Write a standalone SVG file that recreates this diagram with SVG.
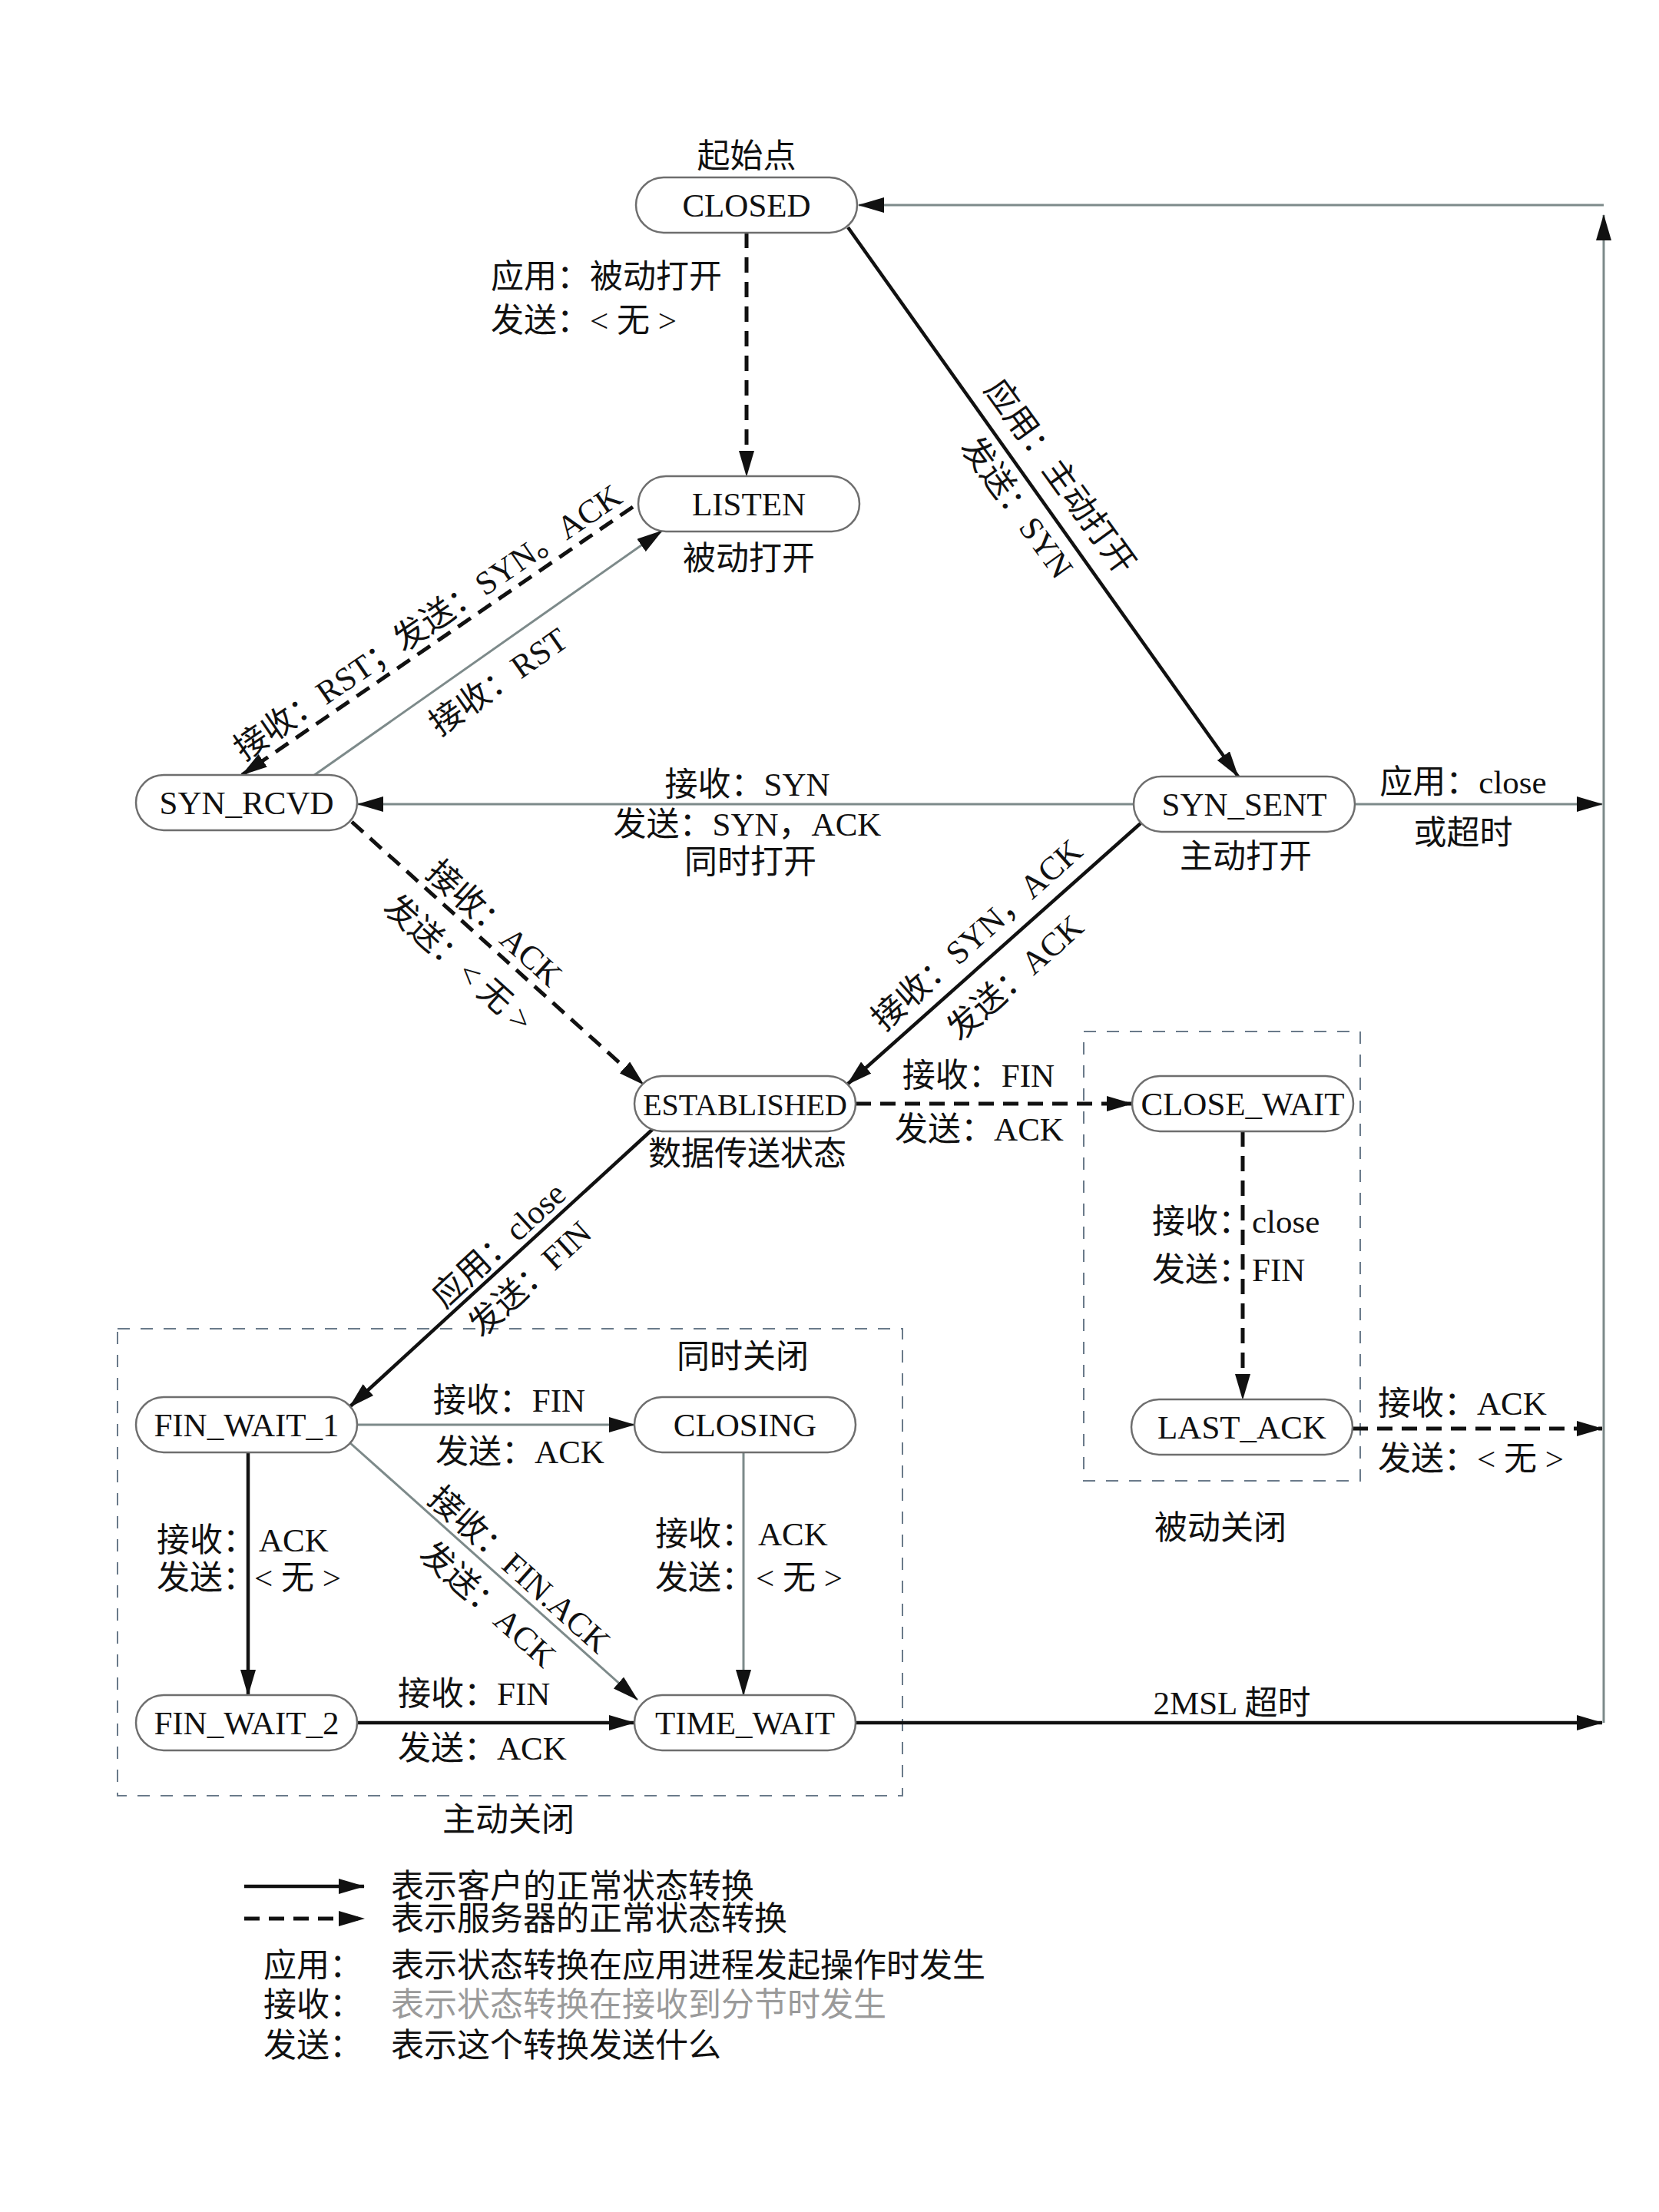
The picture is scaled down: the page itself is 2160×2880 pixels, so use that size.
<svg xmlns="http://www.w3.org/2000/svg" width="2160" height="2880" viewBox="0 0 2160 2880">
<defs>
<style>
text{font-family:"Liberation Serif","Noto Sans CJK SC",serif;font-size:43px;fill:#111}
.node rect{fill:#fff;stroke:#6e6e6e;stroke-width:2.5}
.node text{text-anchor:middle;font-size:43px}
.mid{text-anchor:middle}
.solid{fill:none;stroke:#111;stroke-width:4.5}
.dash{fill:none;stroke:#111;stroke-width:5;stroke-dasharray:20 12}
.thin{fill:none;stroke:#7d8a8a;stroke-width:3}
.box{fill:none;stroke:#6a7a8a;stroke-width:2;stroke-dasharray:16 14}
.gray{fill:#9a9a9a}
</style>
<marker id="ah" viewBox="0 0 34 20" refX="33" refY="10" markerWidth="34" markerHeight="20" markerUnits="userSpaceOnUse" orient="auto">
<path d="M0,0 L34,10 L0,20 z" fill="#111"/>
</marker>
</defs>

<rect class="box" x="153" y="1730" width="1022" height="608"/>
<rect class="box" x="1411" y="1343" width="360" height="585"/>

<g id="connectors">
<path class="dash" d="M972,303 L972,620" marker-end="url(#ah)"/>
<path class="solid" d="M1104,296 L1612,1011" marker-end="url(#ah)"/>
<path class="dash" d="M824,660 L315,1009" marker-end="url(#ah)"/>
<path class="thin" d="M408,1010 L862,691" marker-end="url(#ah)"/>
<path class="thin" d="M1476,1047 L466,1047" marker-end="url(#ah)"/>
<path class="thin" d="M1764,1047 L2086,1047" marker-end="url(#ah)"/>
<path class="dash" d="M458,1070 L838,1412" marker-end="url(#ah)"/>
<path class="solid" d="M1485,1072 L1103,1412" marker-end="url(#ah)"/>
<path class="dash" d="M1114,1437 L1474,1437" marker-end="url(#ah)"/>
<path class="solid" d="M850,1470 L455,1832" marker-end="url(#ah)"/>
<path class="dash" d="M1618,1473 L1618,1822" marker-end="url(#ah)"/>
<path class="dash" d="M1761,1860 L2086,1860" marker-end="url(#ah)"/>
<path class="thin" d="M465,1855 L826,1855" marker-end="url(#ah)"/>
<path class="solid" d="M323,1891 L323,2207" marker-end="url(#ah)"/>
<path class="thin" d="M455,1878 L830,2213" marker-end="url(#ah)"/>
<path class="thin" d="M968,1891 L968,2207" marker-end="url(#ah)"/>
<path class="solid" d="M465,2243 L826,2243" marker-end="url(#ah)"/>
<path class="solid" d="M1114,2243 L2086,2243" marker-end="url(#ah)"/>
<path class="thin" d="M2088,2243 L2088,280" marker-end="url(#ah)"/>
<path class="thin" d="M2088,267 L1118,267" marker-end="url(#ah)"/>
</g>

<g id="closed" class="node"><rect x="828" y="231" width="288" height="72" rx="36"/><text x="972" y="282">CLOSED</text></g>
<g id="listen" class="node"><rect x="831" y="620" width="288" height="72" rx="36"/><text x="975" y="671">LISTEN</text></g>
<g id="syn_rcvd" class="node"><rect x="177" y="1009" width="288" height="72" rx="36"/><text x="321" y="1060">SYN_RCVD</text></g>
<g id="syn_sent" class="node"><rect x="1476" y="1011" width="288" height="72" rx="36"/><text x="1620" y="1062">SYN_SENT</text></g>
<g id="established" class="node"><rect x="826" y="1401" width="288" height="72" rx="36"/><text x="970" y="1452" style="font-size:40px">ESTABLISHED</text></g>
<g id="close_wait" class="node"><rect x="1474" y="1401" width="288" height="72" rx="36"/><text x="1618" y="1452">CLOSE_WAIT</text></g>
<g id="fin_wait_1" class="node"><rect x="177" y="1819" width="288" height="72" rx="36"/><text x="321" y="1870">FIN_WAIT_1</text></g>
<g id="closing" class="node"><rect x="826" y="1819" width="288" height="72" rx="36"/><text x="970" y="1870">CLOSING</text></g>
<g id="last_ack" class="node"><rect x="1473" y="1822" width="288" height="72" rx="36"/><text x="1617" y="1873">LAST_ACK</text></g>
<g id="fin_wait_2" class="node"><rect x="177" y="2207" width="288" height="72" rx="36"/><text x="321" y="2258">FIN_WAIT_2</text></g>
<g id="time_wait" class="node"><rect x="826" y="2207" width="288" height="72" rx="36"/><text x="970" y="2258">TIME_WAIT</text></g>

<g id="labels">
<text class="mid" x="972" y="218">起始点</text>
<text x="639" y="375">应用：被动打开</text>
<text x="639" y="432">发送：&lt; 无 &gt;</text>
<text class="mid" x="975" y="742">被动打开</text>
<g transform="translate(1353,640) rotate(54.1)"><text class="mid" y="-19">应用：主动打开</text><text class="mid" y="50">发送：SYN</text></g>
<g transform="translate(572,832) rotate(-34.4)"><text class="mid" y="-12">接收：RST；发送：SYN。ACK</text></g>
<g transform="translate(627,856) rotate(-35.2)"><text class="mid" y="53">接收：RST</text></g>
<text class="mid" x="973" y="1036">接收：SYN</text>
<text class="mid" x="973" y="1088">发送：SYN，ACK</text>
<text class="mid" x="977" y="1137">同时打开</text>
<text class="mid" x="1622" y="1130">主动打开</text>
<text class="mid" x="1905" y="1033">应用：close</text>
<text class="mid" x="1905" y="1099">或超时</text>
<g transform="translate(626,1222) rotate(42.1)"><text class="mid" y="-12">接收：ACK</text><text class="mid" y="58">发送：&lt; 无 &gt;</text></g>
<g transform="translate(1294,1242) rotate(-41.7)"><text class="mid" y="-19">接收：SYN，ACK</text><text class="mid" y="56">发送：ACK</text></g>
<text class="mid" x="1274" y="1415">接收：FIN</text>
<text class="mid" x="1275" y="1485">发送：ACK</text>
<text class="mid" x="973" y="1517">数据传送状态</text>
<g transform="translate(666,1639) rotate(-42.5)"><text class="mid" y="-10">应用：close</text><text class="mid" y="50">发送：FIN</text></g>
<text x="1500" y="1605">接收：<tspan x="1630">close</tspan></text>
<text x="1500" y="1668">发送：<tspan x="1630">FIN</tspan></text>
<text x="1794" y="1842">接收：ACK</text>
<text x="1794" y="1914">发送：&lt; 无 &gt;</text>
<text class="mid" x="1589" y="2004">被动关闭</text>
<text class="mid" x="967" y="1781">同时关闭</text>
<text class="mid" x="663" y="1838">接收：FIN</text>
<text class="mid" x="677" y="1905">发送：ACK</text>
<text x="204" y="2020">接收：<tspan x="337">ACK</tspan></text>
<text x="204" y="2069">发送：<tspan x="331">&lt; 无 &gt;</tspan></text>
<g transform="translate(660,2062) rotate(41.9)"><text class="mid" y="-10">接收：FIN.ACK</text><text class="mid" y="51">发送：ACK</text></g>
<text x="853" y="2012">接收：<tspan x="987">ACK</tspan></text>
<text x="853" y="2069">发送：<tspan x="984">&lt; 无 &gt;</tspan></text>
<text x="518" y="2220">接收：FIN</text>
<text x="518" y="2291">发送：ACK</text>
<text class="mid" x="1604" y="2232">2MSL 超时</text>
<text class="mid" x="662" y="2384">主动关闭</text>
</g>

<g id="legend">
<path class="solid" d="M318,2456 L474,2456" marker-end="url(#ah)"/>
<path class="dash" d="M318,2498 L474,2498" marker-end="url(#ah)"/>
<text x="509" y="2471">表示客户的正常状态转换</text>
<text x="509" y="2513">表示服务器的正常状态转换</text>
<text x="343" y="2574">应用：</text>
<text x="509" y="2574">表示状态转换在应用进程发起操作时发生</text>
<text x="343" y="2625">接收：</text>
<text class="gray" x="509" y="2625">表示状态转换在接收到分节时发生</text>
<text x="343" y="2678">发送：</text>
<text x="509" y="2678">表示这个转换发送什么</text>
</g>
</svg>
